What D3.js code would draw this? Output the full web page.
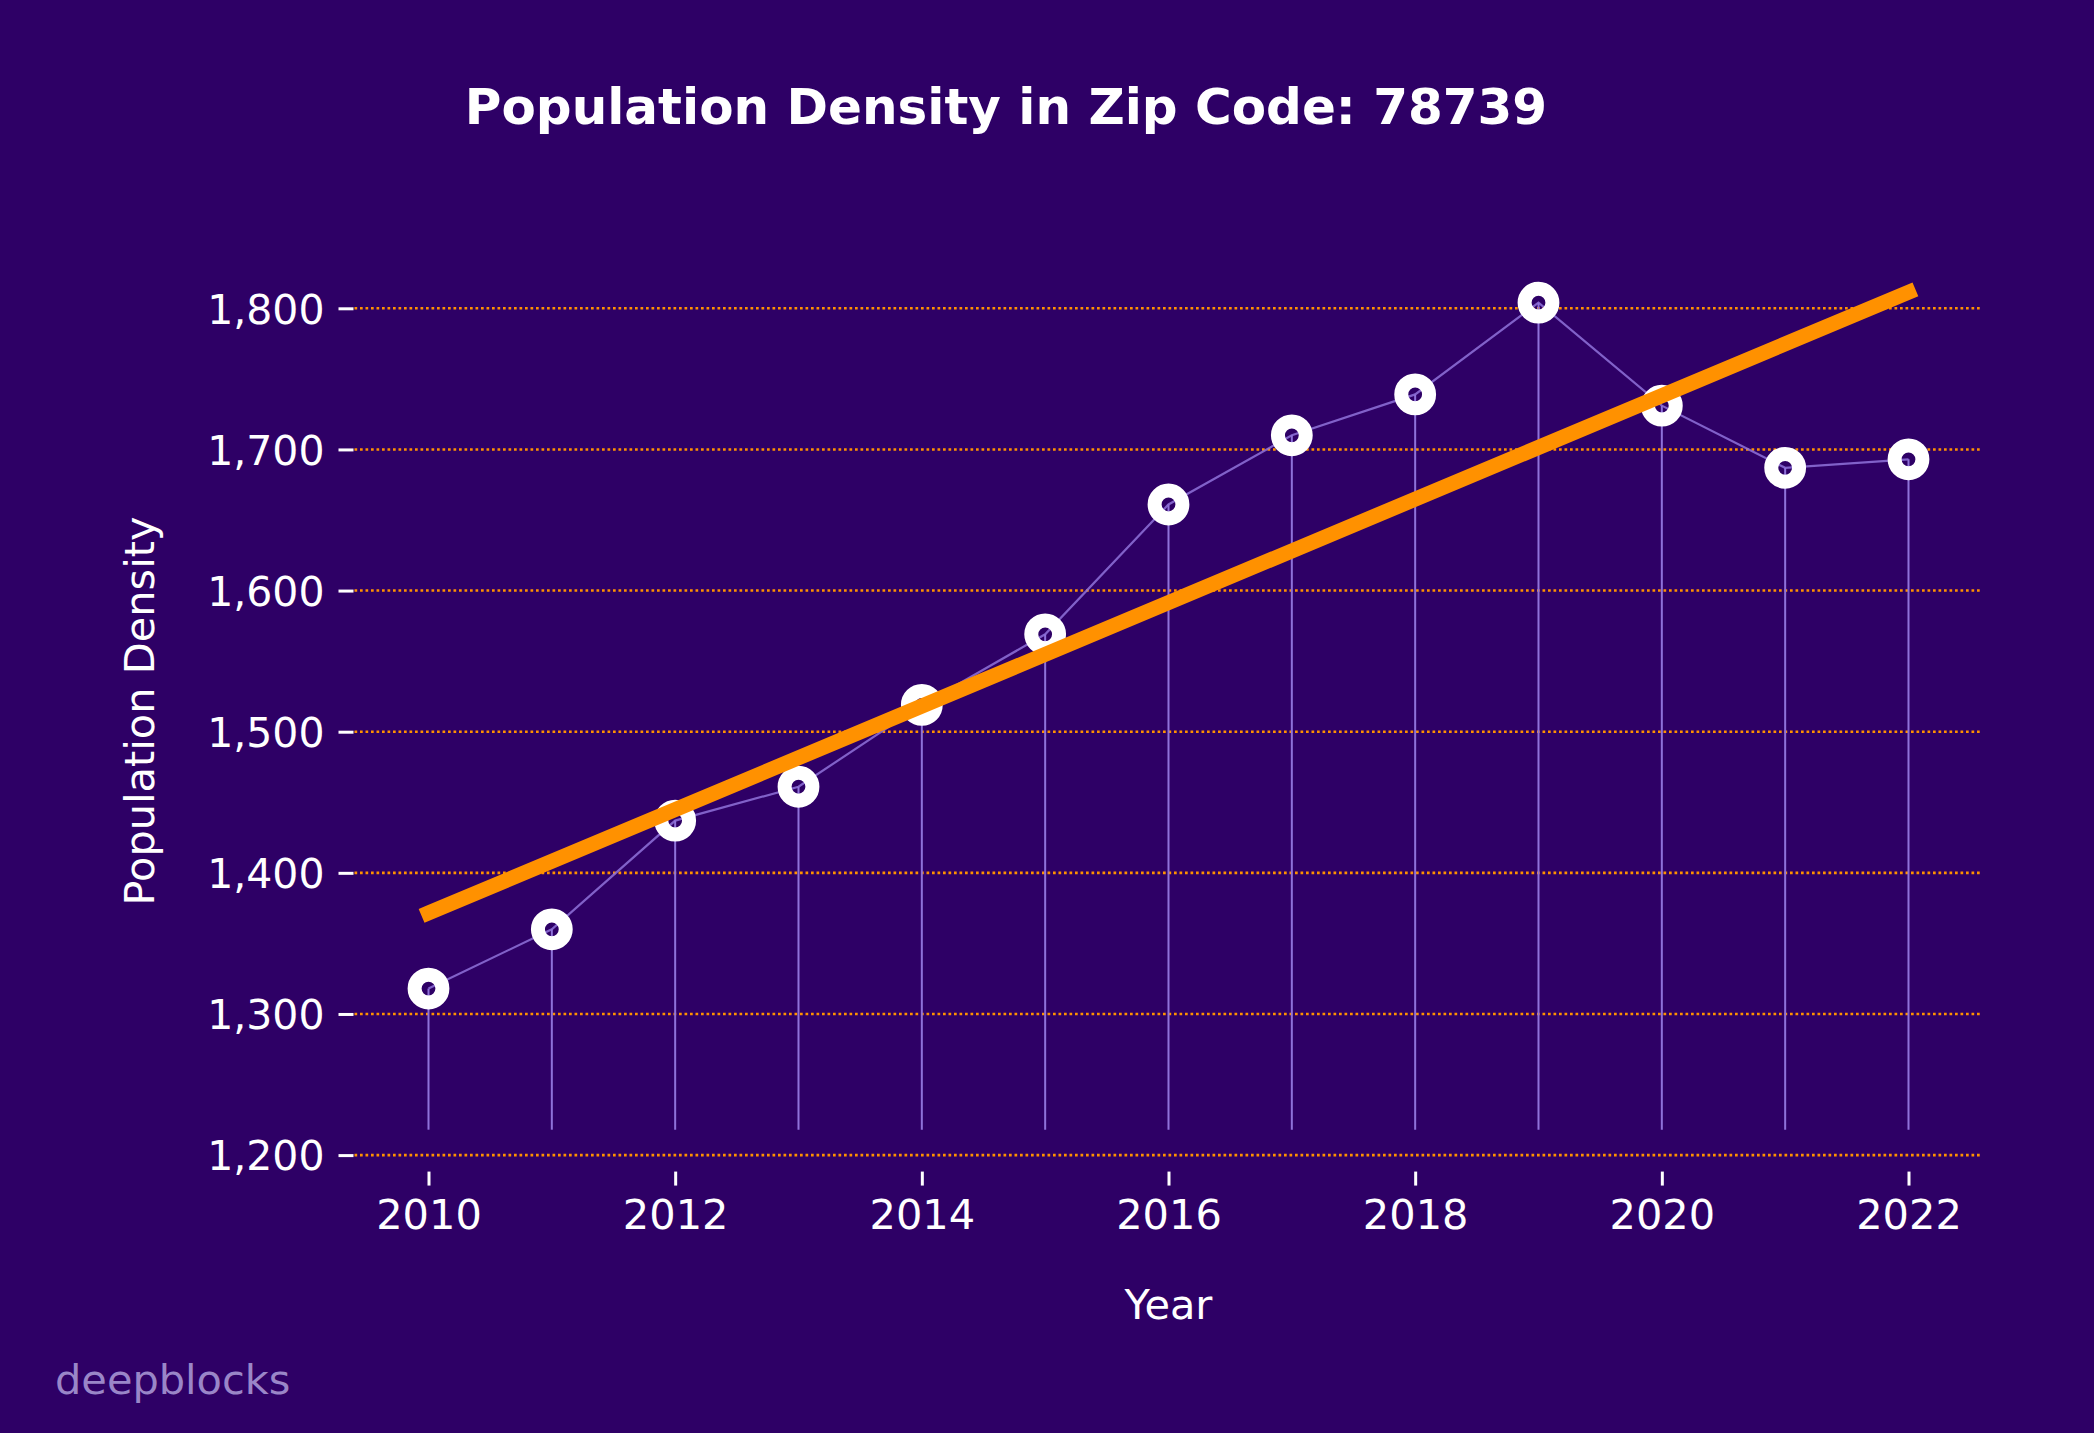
<!DOCTYPE html>
<html>
<head>
<meta charset="utf-8">
<script src="https://cdn.jsdelivr.net/npm/d3@7"></script>
<style>
  html, body { margin: 0; padding: 0; background: #2e0066; }
  svg { display: block; }
  text { font-family: "DejaVu Sans", sans-serif; }
</style>
</head>
<body>
<script>
// ---- data ----
const years = [2010, 2011, 2012, 2013, 2014, 2015, 2016, 2017, 2018, 2019, 2020, 2021, 2022];
const density = [1318, 1360, 1437, 1461, 1519, 1569, 1661, 1710, 1739, 1804, 1731, 1687, 1693];
const xTickValues = [2010, 2012, 2014, 2016, 2018, 2020, 2022];
const yTickValues = [1200, 1300, 1400, 1500, 1600, 1700, 1800];
const titleText = "Population Density in Zip Code: 78739";
const xLabel = "Year";
const yLabel = "Population Density";
const watermark = "deepblocks";

// ---- layout ----
const W = 2094, H = 1433;
const bg = "#2e0066";
const orange = "#ff9100";
const lavender = "#8f72da";

// linear trend (least squares fit of the data)
const n = years.length;
const mx = d3.mean(years), my = d3.mean(density);
const slope = d3.sum(years, (x, i) => (x - mx) * (density[i] - my)) / d3.sum(years, x => (x - mx) ** 2);
const intercept = my - slope * mx;
const trend = [years[0], years[n - 1]].map(x => [x, intercept + slope * x]);

const stemBase = d3.min(density) - 100;
const lo = Math.min(stemBase, d3.min(trend, d => d[1]));
const hi = Math.max(d3.max(density), d3.max(trend, d => d[1]));
const pad = (hi - lo) * 0.05;

const x = d3.scaleLinear().domain([2010, 2022]).range([428.5, 1908.5]);
const y = d3.scaleLinear().domain([1200, 1800]).range([1155.1, 308.3]);
const xLeft = x(2009.4), xRight = x(2022.6);
const yBottom = y(lo - pad);

const svg = d3.select("body").append("svg").attr("width", W).attr("height", H);
svg.append("rect").attr("width", W).attr("height", H).attr("fill", bg);

// grid lines
svg.append("g").selectAll("line").data(yTickValues).join("line")
  .attr("x1", xLeft).attr("x2", xRight)
  .attr("y1", d => y(d)).attr("y2", d => y(d))
  .attr("stroke", orange).attr("stroke-width", 2.6)
  .attr("stroke-dasharray", "2.7,2.8");

// y axis
const yAxis = d3.axisLeft(y).tickValues(yTickValues).tickSize(15).tickPadding(14)
  .tickFormat(d3.format(","));
const gy = svg.append("g").attr("transform", `translate(${xLeft - 1},0)`).call(yAxis);
gy.select(".domain").remove();
gy.selectAll(".tick line").attr("stroke", "#ffffff").attr("stroke-width", 3);
gy.selectAll(".tick text").attr("fill", "#ffffff").attr("font-size", 41)
  .attr("font-family", "DejaVu Sans").attr("dy", "0.36em");

// x axis
const xAxis = d3.axisBottom(x).tickValues(xTickValues).tickSize(14).tickPadding(14)
  .tickFormat(d3.format("d"));
const gx = svg.append("g").attr("transform", `translate(0,${yBottom})`).call(xAxis);
gx.select(".domain").remove();
gx.selectAll(".tick line").attr("stroke", "#ffffff").attr("stroke-width", 3);
gx.selectAll(".tick text").attr("fill", "#ffffff").attr("font-size", 41.5)
  .attr("font-family", "DejaVu Sans");

// stems
svg.append("g").selectAll("line").data(years).join("line")
  .attr("x1", d => x(d)).attr("x2", d => x(d))
  .attr("y1", y(stemBase)).attr("y2", (d, i) => y(density[i]))
  .attr("stroke", lavender).attr("stroke-width", 2);

// connecting line
svg.append("path")
  .datum(years.map((d, i) => [d, density[i]]))
  .attr("d", d3.line().x(d => x(d[0])).y(d => y(d[1])))
  .attr("fill", "none").attr("stroke", lavender).attr("stroke-width", 2.2)
  .attr("stroke-opacity", 0.85);

// markers
svg.append("g").selectAll("circle").data(years).join("circle")
  .attr("cx", d => x(d)).attr("cy", (d, i) => y(density[i]))
  .attr("r", 13.9).attr("fill", "none")
  .attr("stroke", "#ffffff").attr("stroke-width", 14);

// trend line
svg.append("path")
  .datum(trend)
  .attr("d", d3.line().x(d => x(d[0])).y(d => y(d[1])))
  .attr("fill", "none").attr("stroke", orange).attr("stroke-width", 15)
  .attr("stroke-linecap", "square");

// title
svg.append("text").attr("x", 1006).attr("y", 124).attr("text-anchor", "middle")
  .attr("fill", "#ffffff").attr("font-size", 50).attr("font-weight", "bold")
  .text(titleText);

// axis labels
svg.append("text").attr("x", (xLeft + xRight) / 2).attr("y", 1319)
  .attr("text-anchor", "middle").attr("fill", "#ffffff").attr("font-size", 41.5)
  .text(xLabel);
svg.append("text").attr("transform", `translate(154,711) rotate(-90)`)
  .attr("text-anchor", "middle").attr("fill", "#ffffff").attr("font-size", 41.5)
  .text(yLabel);

// watermark
svg.append("text").attr("x", 55).attr("y", 1394)
  .attr("fill", "#9a86c8").attr("font-size", 41.5).text(watermark);
</script>
</body>
</html>
